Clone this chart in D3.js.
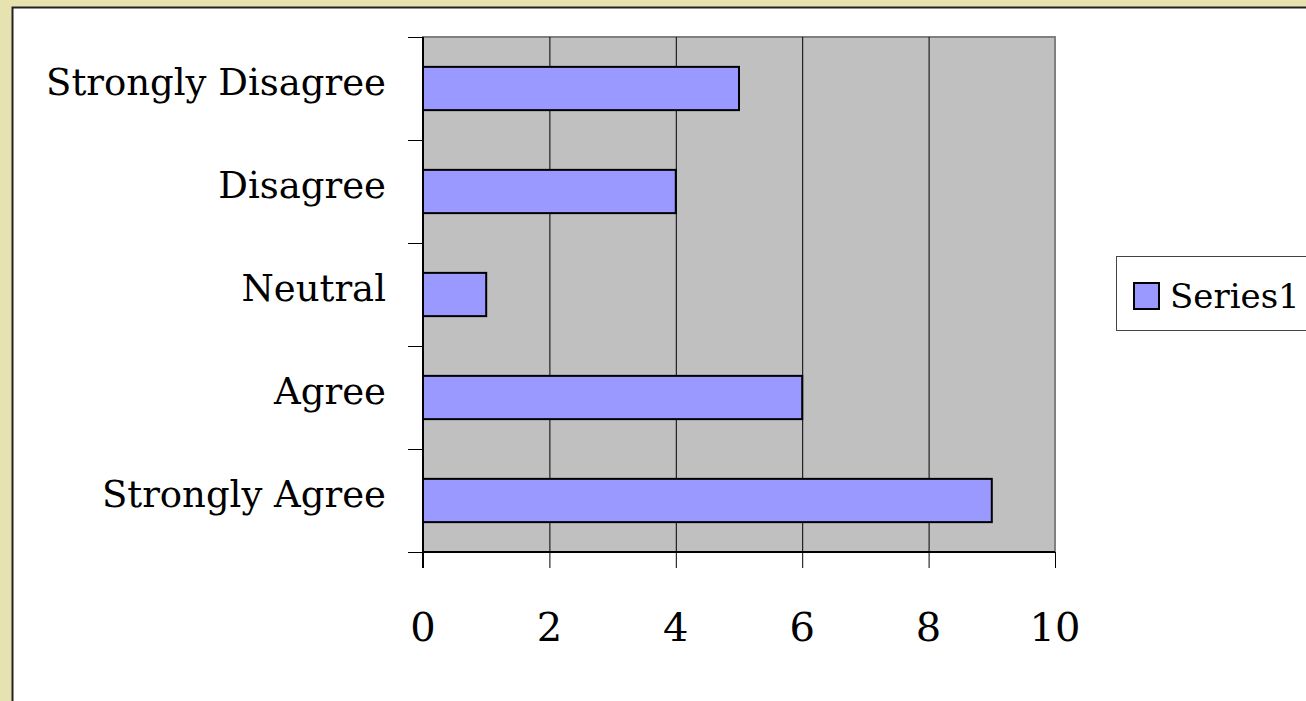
<!DOCTYPE html>
<html>
<head>
<meta charset="utf-8">
<script src="https://cdn.jsdelivr.net/npm/d3@7"></script>
<style>
  html, body { margin: 0; padding: 0; background: #E6E3B1; overflow: hidden; }
  svg { display: block; }
  text { font-family: "DejaVu Serif", "Liberation Serif", serif; fill: #000; }
</style>
</head>
<body>
<script>
// Survey responses, listed bottom-to-top as in the category axis
const categories = ["Strongly Agree", "Agree", "Neutral", "Disagree", "Strongly Disagree"];
const series1 = [9, 6, 1, 4, 5];
const xTicks = [0, 2, 4, 6, 8, 10];
const seriesName = "Series1";

const W = 1306, H = 701;
const svg = d3.select("body").append("svg").attr("width", W).attr("height", H);

// chart area frame
svg.append("rect")
  .attr("x", 12.5).attr("y", 7.5)
  .attr("width", W).attr("height", H)
  .attr("fill", "#fff").attr("stroke", "#222").attr("stroke-width", 2);

const plot = { left: 423, right: 1055, top: 37, bottom: 552 };

const x = d3.scaleLinear().domain([0, 10]).range([plot.left, plot.right]);
const y = d3.scaleBand()
  .domain(categories.slice().reverse())
  .range([plot.top, plot.bottom])
  .paddingInner(0.58).paddingOuter(0.29);

// plot background
svg.append("rect")
  .attr("x", plot.left).attr("y", plot.top)
  .attr("width", plot.right - plot.left).attr("height", plot.bottom - plot.top)
  .attr("fill", "#C0C0C0").attr("stroke", "#808080").attr("stroke-width", 2);

// vertical gridlines
svg.append("g").selectAll("line")
  .data(xTicks.filter(t => t > 0 && t < 10))
  .join("line")
  .attr("x1", d => x(d) + 0.5).attr("x2", d => x(d) + 0.5)
  .attr("y1", plot.top).attr("y2", plot.bottom)
  .attr("stroke", "#000").attr("stroke-width", 1);

// bars
svg.append("g").selectAll("rect")
  .data(categories.map((c, i) => ({ c, v: series1[i] })))
  .join("rect")
  .attr("x", x(0))
  .attr("y", d => y(d.c))
  .attr("width", d => x(d.v) - x(0))
  .attr("height", y.bandwidth())
  .attr("fill", "#9999FF").attr("stroke", "#000").attr("stroke-width", 2);

// category axis
const yBound = d3.range(categories.length + 1).map(i => plot.top + i * (plot.bottom - plot.top) / categories.length);
const ga = svg.append("g");
ga.append("line")
  .attr("x1", plot.left).attr("x2", plot.left)
  .attr("y1", plot.top).attr("y2", plot.bottom + 16)
  .attr("stroke", "#000").attr("stroke-width", 2);
ga.selectAll("line.tk")
  .data(yBound)
  .join("line").attr("class", "tk")
  .attr("x1", plot.left - 15).attr("x2", plot.left)
  .attr("y1", d => Math.round(d) + 0.5).attr("y2", d => Math.round(d) + 0.5)
  .attr("stroke", "#000").attr("stroke-width", 1);
ga.selectAll("text")
  .data(categories)
  .join("text")
  .attr("x", 386)
  .attr("y", d => y(d) + y.bandwidth() / 2 + 6)
  .attr("text-anchor", "end")
  .attr("font-size", 37)
  .text(d => d);

// value axis
const gx = svg.append("g");
gx.append("line")
  .attr("x1", plot.left).attr("x2", plot.right)
  .attr("y1", plot.bottom).attr("y2", plot.bottom)
  .attr("stroke", "#000").attr("stroke-width", 2);
gx.selectAll("line.tk")
  .data(xTicks)
  .join("line").attr("class", "tk")
  .attr("x1", d => x(d) + 0.5).attr("x2", d => x(d) + 0.5)
  .attr("y1", plot.bottom).attr("y2", plot.bottom + 16)
  .attr("stroke", "#000").attr("stroke-width", 1);
gx.selectAll("text")
  .data(xTicks)
  .join("text")
  .attr("x", d => x(d))
  .attr("y", 641)
  .attr("text-anchor", "middle")
  .attr("font-size", 40)
  .text(d => d);

// legend
const lg = svg.append("g");
lg.append("rect")
  .attr("x", 1116.5).attr("y", 256.5)
  .attr("width", 220).attr("height", 74)
  .attr("fill", "#fff").attr("stroke", "#444").attr("stroke-width", 1);
lg.append("rect")
  .attr("x", 1134).attr("y", 283)
  .attr("width", 25).attr("height", 26)
  .attr("fill", "#9999FF").attr("stroke", "#000").attr("stroke-width", 2);
lg.append("text")
  .attr("x", 1170).attr("y", 308)
  .attr("font-size", 34)
  .text(seriesName);
</script>
</body>
</html>
